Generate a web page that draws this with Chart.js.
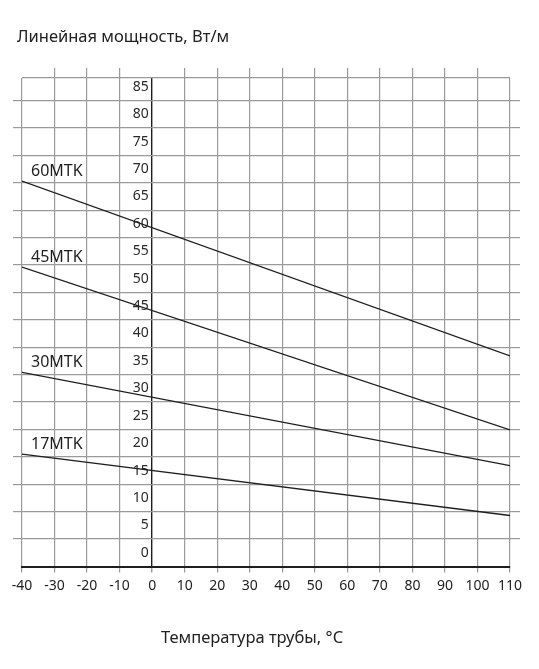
<!DOCTYPE html>
<html lang="ru">
<head>
<meta charset="utf-8">
<title>Линейная мощность</title>
<script src="https://cdn.jsdelivr.net/npm/chart.js@4.4.1/dist/chart.umd.min.js"></script>
<style>
  body { margin: 0; background: #fff; }
  #wrap { position: relative; width: 539px; height: 669px; }
  #grafico { position: absolute; left: 0; top: 0; }
  .titulo { position: absolute; font-family: 'Noto Sans', sans-serif; font-size: 16.5px; color: #222; white-space: nowrap; }
  #tituloY { left: 17px; top: 24px; }
  #tituloX { left: 252px; top: 625px; transform: translateX(-50%); }
</style>
</head>
<body>
<div id="wrap">
  <canvas id="grafico" width="539" height="669"></canvas>
  <div class="titulo" id="tituloY">Линейная мощность, Вт/м</div>
  <div class="titulo" id="tituloX">Температура трубы, °C</div>
</div>
<script>
// values
const temperaturas = [-40, 110];
const cabos = ['60MTK', '45MTK', '30MTK', '17MTK'];
const potencias = [
    [67.8, 35.9],
    [52.1, 22.4],
    [32.9, 15.9],
    [18.0, 6.8]
];
const ticksX = [-40, -30, -20, -10, 0, 10, 20, 30, 40, 50, 60, 70, 80, 90, 100, 110];
const ticksY = [0, 5, 10, 15, 20, 25, 30, 35, 40, 45, 50, 55, 60, 65, 70, 75, 80, 85];
const yMin = -2.5;
const yMax = 86.6;
const linhasY = [-2.5, 2.5, 7.5, 12.5, 17.5, 22.5, 27.5, 32.5, 37.5, 42.5, 47.5, 52.5, 57.5, 62.5, 67.5, 72.5, 77.5, 82.5, 86.6];

const cinza = '#9a9a9a';
const escuro = '#1e1e1e';

const datasets = cabos.map((nome, i) => ({
    label: nome,
    data: temperaturas.map((t, j) => ({ x: t, y: potencias[i][j] })),
    borderColor: escuro,
    borderWidth: 1.3,
    pointRadius: 0,
    fill: false,
    tension: 0
}));

// text above the start of each line
const rotulosLinhas = {
    id: 'rotulosLinhas',
    afterDatasetsDraw(chart) {
        const ctx = chart.ctx;
        ctx.save();
        ctx.font = '16px "Noto Sans", sans-serif';
        ctx.fillStyle = escuro;
        ctx.textAlign = 'left';
        ctx.textBaseline = 'alphabetic';
        chart.data.datasets.forEach((ds, i) => {
            const p = chart.getDatasetMeta(i).data[0];
            ctx.fillText(ds.label, p.x + 9, p.y - 5);
        });
        ctx.restore();
    }
};

const semPontas = (ctx, fora) => fora.includes(ctx.tick.value) ? 'rgba(0,0,0,0)' : cinza;
const ehZero = ctx => ctx.tick && ctx.tick.value === 0;

new Chart(document.getElementById('grafico').getContext('2d'), {
    type: 'line',
    data: { datasets: datasets },
    plugins: [rotulosLinhas],
    options: {
        responsive: false,
        animation: false,
        layout: { padding: 0 },
        plugins: {
            legend: { display: false },
            tooltip: { enabled: false }
        },
        scales: {
            x: {
                type: 'linear',
                position: 'bottom',
                min: -40,
                max: 110,
                afterBuildTicks: s => { s.ticks = ticksX.map(v => ({ value: v })); },
                afterFit: s => { s.height = 102.5; },
                ticks: {
                    font: { family: 'Noto Sans', size: 14 },
                    color: '#222',
                    padding: 5,
                    maxRotation: 0
                },
                grid: {
                    color: ctx => ehZero(ctx) ? escuro : cinza,
                    lineWidth: ctx => ehZero(ctx) ? 1.4 : 1.2,
                    tickLength: 6,
                    tickColor: cinza
                },
                border: { color: escuro, width: 2 }
            },
            xTop: {
                type: 'linear',
                position: 'top',
                min: -40,
                max: 110,
                afterBuildTicks: s => { s.ticks = ticksX.map(v => ({ value: v })); },
                afterFit: s => { s.height = 78; },
                ticks: { display: false },
                grid: {
                    drawOnChartArea: false,
                    lineWidth: 1.2,
                    tickLength: 10,
                    tickColor: ctx => semPontas(ctx, [-40, 0, 110])
                },
                border: { display: false }
            },
            y: {
                type: 'linear',
                position: 'left',
                min: yMin,
                max: yMax,
                afterBuildTicks: s => { s.ticks = linhasY.map(v => ({ value: v })); },
                afterFit: s => { s.width = 22; },
                ticks: { display: false },
                grid: {
                    color: ctx => ctx.tick && ctx.tick.value === yMin ? 'rgba(0,0,0,0)' : cinza,
                    lineWidth: 1.2,
                    tickLength: 9,
                    tickColor: ctx => semPontas(ctx, [yMin, yMax])
                },
                border: { display: false }
            },
            yRight: {
                type: 'linear',
                position: 'right',
                min: yMin,
                max: yMax,
                afterBuildTicks: s => { s.ticks = linhasY.map(v => ({ value: v })); },
                afterFit: s => { s.width = 29; },
                ticks: { display: false },
                grid: {
                    drawOnChartArea: false,
                    lineWidth: 1.2,
                    tickLength: 10,
                    tickColor: ctx => semPontas(ctx, [yMin, yMax])
                },
                border: { display: false }
            },
            yLab: {
                type: 'linear',
                position: { x: -1 },
                min: yMin,
                max: yMax,
                afterBuildTicks: s => { s.ticks = ticksY.map(v => ({ value: v })); },
                ticks: {
                    font: { family: 'Noto Sans', size: 14 },
                    color: '#2a2a2a',
                    padding: 0
                },
                grid: { display: false },
                border: { display: false }
            }
        }
    }
});
</script>
</body>
</html>
